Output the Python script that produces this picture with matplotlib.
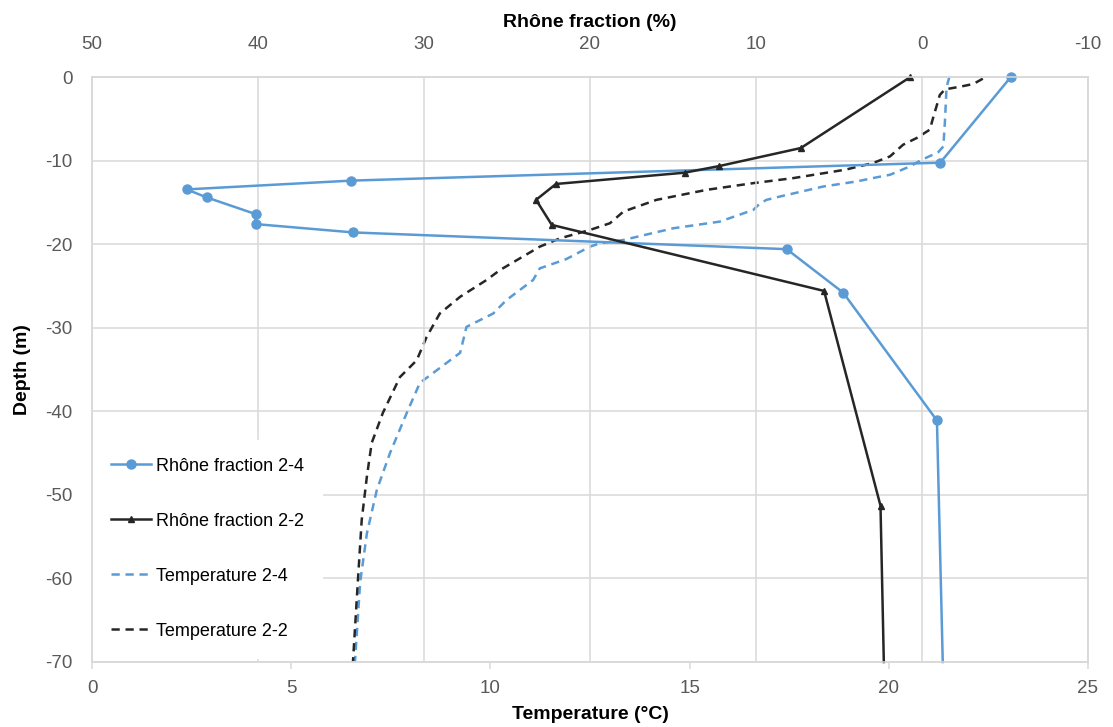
import matplotlib
matplotlib.use("Agg")
import matplotlib.pyplot as plt

plt.rcParams["font.family"] = ["Liberation Sans", "DejaVu Sans"]
plt.rcParams["axes.unicode_minus"] = False

# Rhône fraction (%) vs depth (m)
rhone24_depth = [0, -10.25, -12.4, -13.45, -14.4, -16.4, -17.6, -18.6, -20.6, -25.8, -41.1, -70]
rhone24_frac = [-5.35, -1.1, 34.4, 44.3, 43.1, 40.15, 40.15, 34.25, 8.15, 4.75, -0.9, -1.25]

rhone22_depth = [0, -8.5, -10.65, -11.45, -12.8, -14.7, -17.7, -25.6, -51.3, -70]
rhone22_frac = [0.7, 7.3, 12.2, 14.3, 22.05, 23.25, 22.3, 5.9, 2.5, 2.3]

# temperature profiles (°C)
temp24_depth = [0, -1.2, -5.2, -8.3, -9.0, -9.9, -10.7, -11.7, -12.0, -12.5, -13.1, -14.3,
                -14.7, -15.2, -15.9, -17.3, -18.1, -19.5, -19.9, -20.3, -21.8, -22.9, -24.3,
                -26.7, -28.3, -29.9, -33.0, -36.6, -40.2, -45.0, -49.4, -54.6, -60.5, -70]
temp24 = [21.52, 21.45, 21.41, 21.37, 21.24, 20.83, 20.53, 20.03, 19.7, 19.19, 18.36, 17.27,
          16.93, 16.75, 16.6, 15.76, 14.59, 13.34, 12.75, 12.5, 11.9, 11.24, 11.07,
          10.4, 10.07, 9.4, 9.24, 8.23, 7.9, 7.48, 7.15, 6.9, 6.73, 6.6]

temp22_depth = [-0.2, -0.84, -1.16, -1.48, -2.15, -3.15, -4.75, -6.3, -7.3, -8.1, -9.5, -10.3,
                -11.1, -12.1, -12.7, -13.5, -14.7, -16.1, -17.5, -18.3, -19.3, -20.3, -23.1,
                -24.3, -26.3, -28.3, -31.1, -33.9, -35.9, -40.2, -43.8, -47.8, -53.0, -59.8, -70]
temp22 = [22.36, 22.12, 21.79, 21.41, 21.28, 21.22, 21.12, 21.03, 20.7, 20.36, 20.03, 19.6,
          18.9, 17.6, 16.6, 15.43, 14.17, 13.34, 13.0, 12.5, 11.75, 11.24, 10.24,
          9.9, 9.24, 8.73, 8.4, 8.15, 7.73, 7.3, 7.02, 6.9, 6.77, 6.68, 6.55]

blue = "#5B9BD5"
dark = "#262626"
grid = "#D9D9D9"
tick_col = "#595959"

fig = plt.figure(figsize=(11.13, 7.27), dpi=100)
ax = fig.add_axes([92 / 1113, 1 - 662 / 727, 996 / 1113, 585 / 727])
ax2 = ax.twiny()

# temperature on bottom axis
l3, = ax.plot(temp24, temp24_depth, color=blue, lw=1.8, ls=(0, (3.3, 2.3)), label="Temperature 2-4")
l4, = ax.plot(temp22, temp22_depth, color=dark, lw=1.8, ls=(0, (3.3, 2.3)), label="Temperature 2-2")

# Rhône fraction on top axis (no marker on the point sitting on the bottom edge)
l1, = ax2.plot(rhone24_frac, rhone24_depth, color=blue, lw=1.8, marker="o", ms=6.5,
               markevery=list(range(len(rhone24_depth) - 1)), clip_on=False,
               label="Rhône fraction 2-4")
l2, = ax2.plot(rhone22_frac, rhone22_depth, color=dark, lw=1.8, marker="^", ms=4.5,
               markevery=list(range(len(rhone22_depth) - 1)), clip_on=False,
               label="Rhône fraction 2-2")

ax.set_xlim(0, 25)
ax.set_ylim(-70, 0)
ax2.set_xlim(50, -10)
ax.set_xticks(range(0, 26, 5))
ax.set_yticks(range(-70, 1, 10))
ax2.set_xticks(range(50, -11, -10))

ax.grid(axis="y", color=grid, lw=1.1)
ax2.grid(axis="x", color=grid, lw=1.1)
ax.set_axisbelow(True)
ax2.set_axisbelow(True)

for a in (ax, ax2):
    for s in a.spines.values():
        s.set_color(grid)
        s.set_linewidth(1.1)

ax.tick_params(axis="x", direction="out", length=5, color=grid, width=1.1,
               labelsize=13.5, labelcolor=tick_col, pad=8)
ax.tick_params(axis="y", length=0, labelsize=13.5, labelcolor=tick_col, pad=14)
ax2.tick_params(axis="x", length=0, labelsize=13.5, labelcolor=tick_col, pad=17)

ax.set_xlabel("Temperature (°C)", fontsize=14, fontweight="bold", va="center")
ax.xaxis.set_label_coords(0.5, -0.089)
ax.set_ylabel("Depth (m)", fontsize=14, fontweight="bold", va="center")
ax.yaxis.set_label_coords(-0.07, 0.5)
ax2.set_xlabel("Rhône fraction (%)", fontsize=14, fontweight="bold", va="center")
ax2.xaxis.set_label_coords(0.5, 1.094)

leg = ax2.legend(handles=[l1, l2, l3, l4], loc="upper left", bbox_to_anchor=(0.001, 0.380),
                 borderaxespad=0, frameon=True, fancybox=False, framealpha=1,
                 facecolor="white", edgecolor="white", fontsize=13, labelspacing=2.1,
                 handlelength=2.2, handletextpad=0.3, borderpad=1.0)
# above the gridlines, below the spines
leg.set_zorder(2.4)

fig.savefig("out.png", dpi=100)
